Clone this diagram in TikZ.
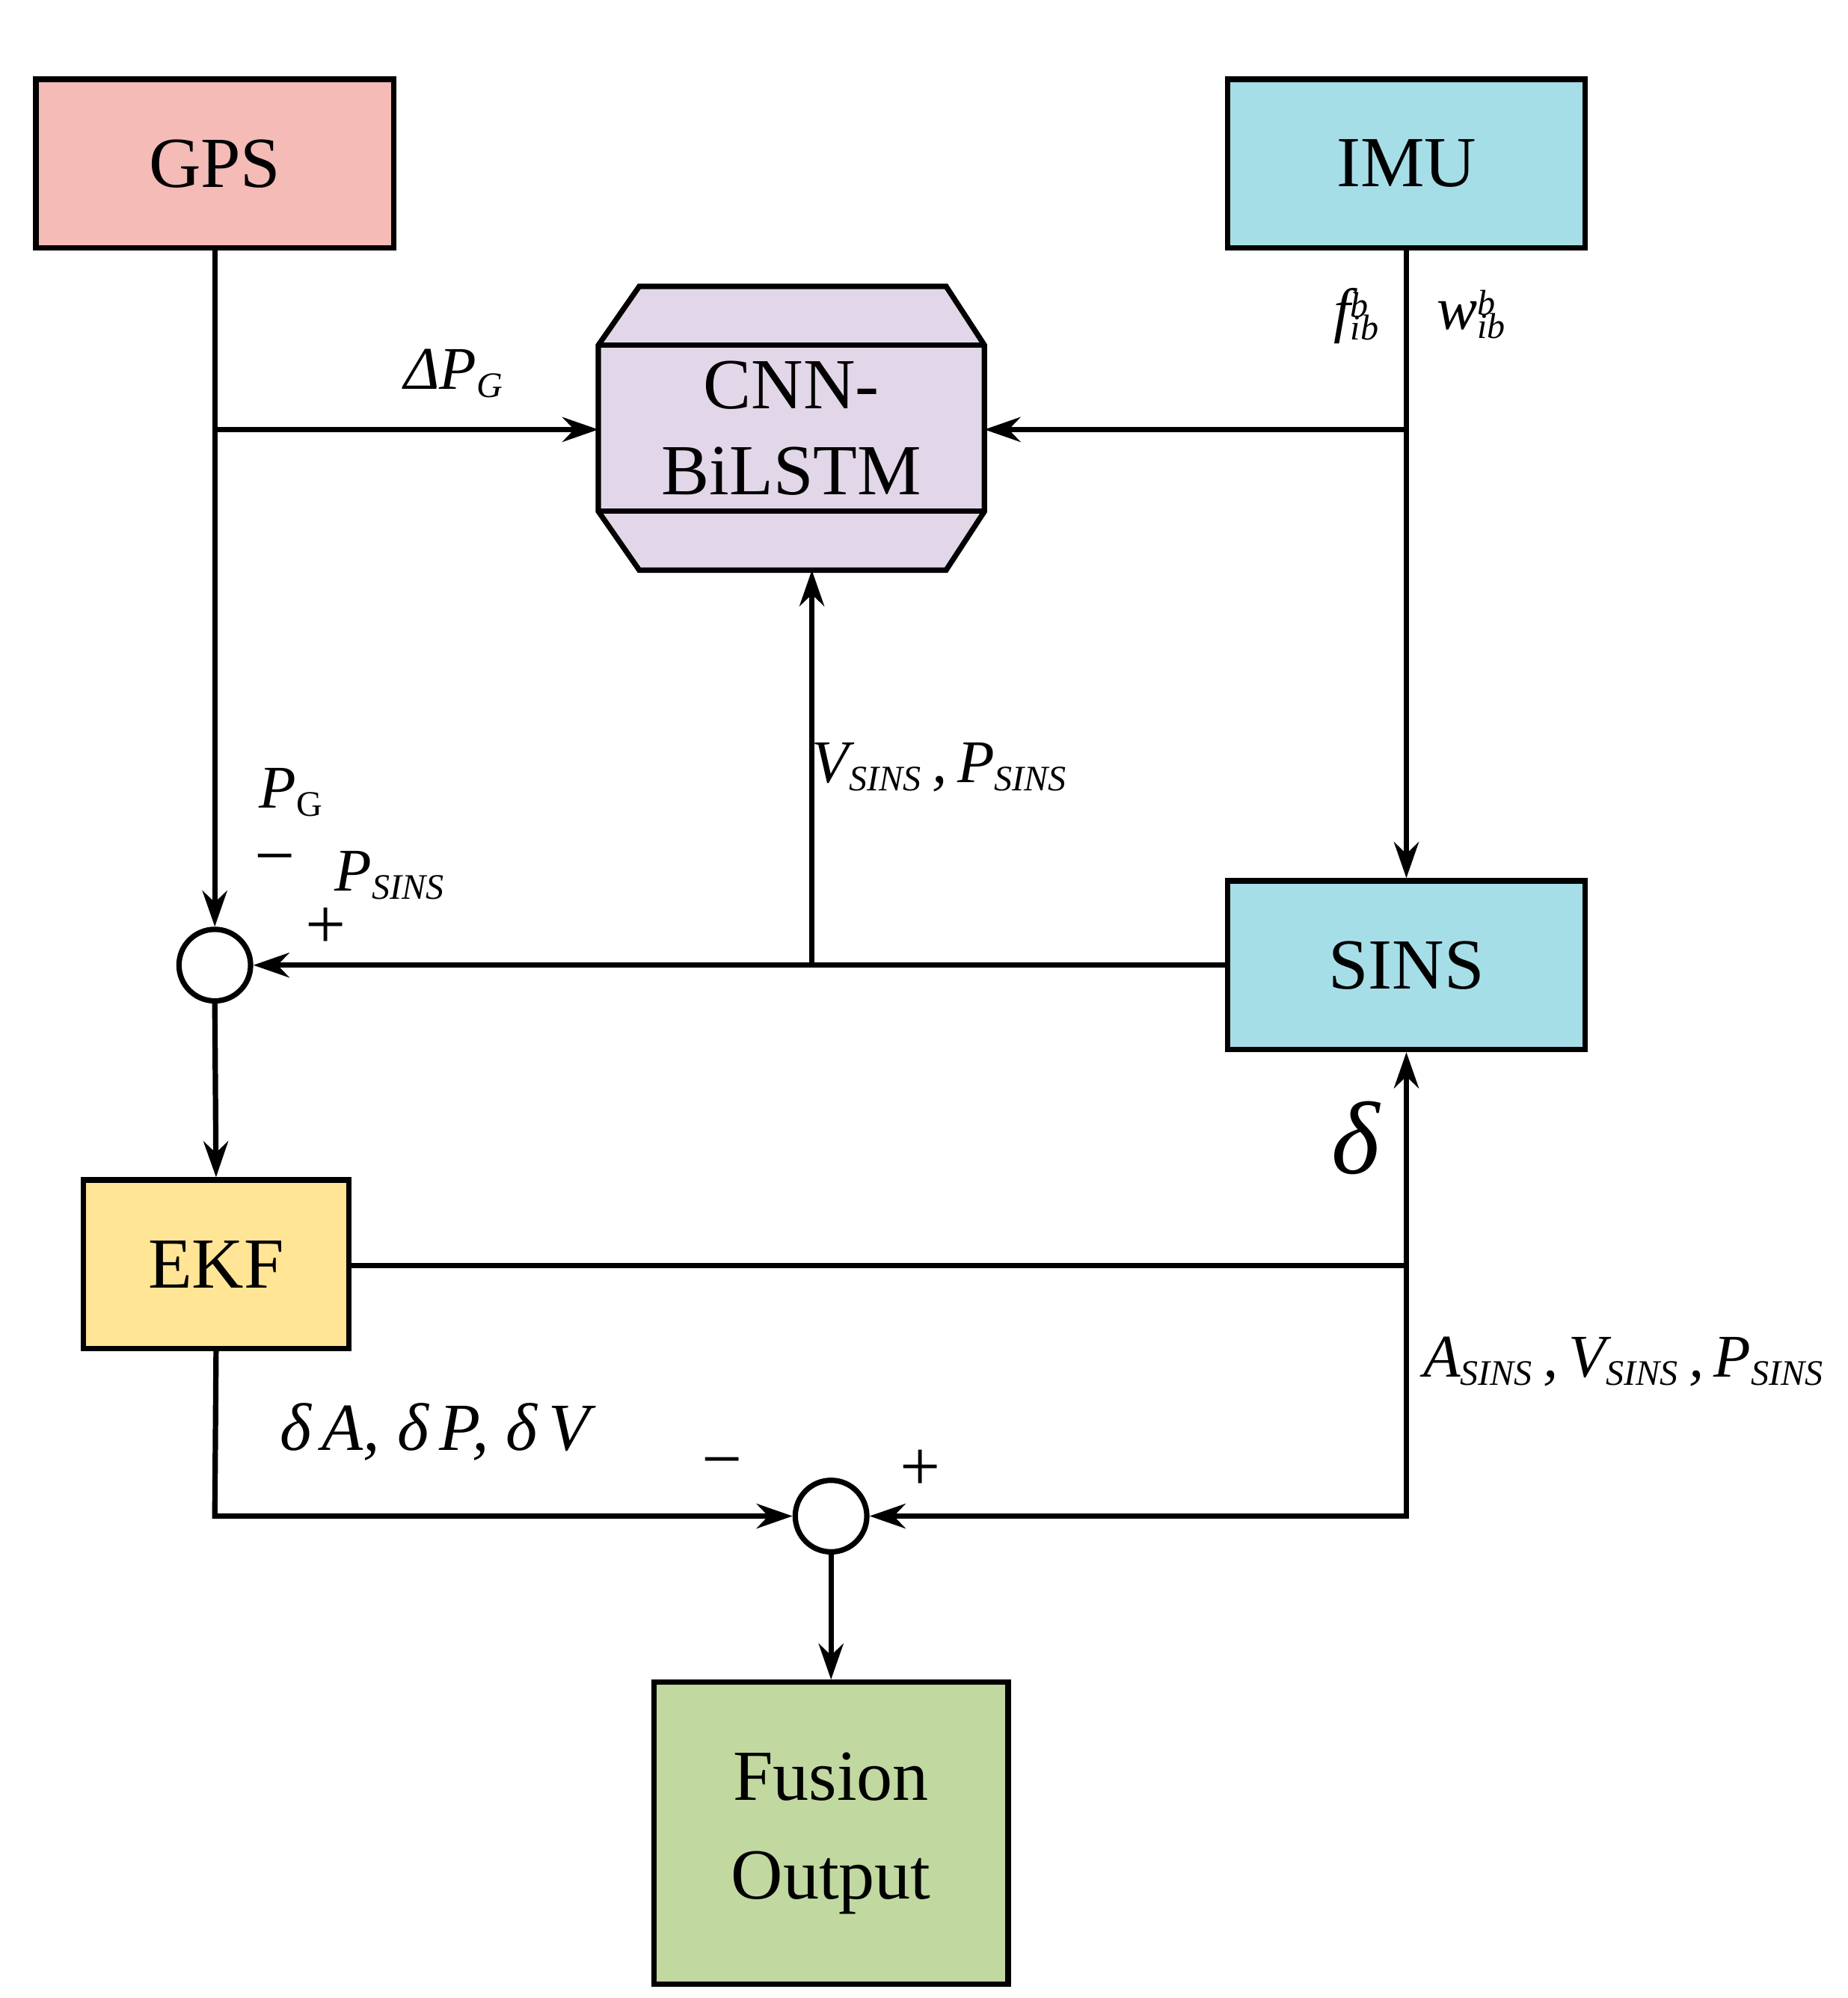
\documentclass[tikz,border=0pt]{standalone}
\usepackage{fontspec}
\setmainfont{Liberation Serif}
\usetikzlibrary{arrows.meta}
\definecolor{gpsc}{HTML}{F4BBB7}
\definecolor{imuc}{HTML}{A6DEE8}
\definecolor{cnnc}{HTML}{E2D7E8}
\definecolor{ekfc}{HTML}{FFE595}
\definecolor{fusc}{HTML}{C1D8A0}
\newcommand{\sub}[1]{\textsubscript{\fontsize{16}{16}\selectfont #1}}
\newcommand{\supsub}[2]{\raisebox{0pt}{\fontsize{16}{16}\selectfont\begin{tabular}{@{}l@{}}#1\\[-6pt]#2\end{tabular}}}
\begin{document}
\begin{tikzpicture}[x=0.02cm,y=-0.02cm,line width=2.4pt,
  box/.style={draw,rectangle,inner sep=0pt,font=\fontsize{32}{36}\selectfont},
  sum/.style={draw,circle,fill=white,inner sep=0pt},
  arr/.style={-{Stealth[length=16pt,width=11pt]}},
  lab/.style={font=\fontsize{27}{30}\selectfont\itshape,inner sep=1pt}]
\useasboundingbox (0,0) rectangle (1445,1563);
\node[box,fill=gpsc,minimum width=5.6cm,minimum height=2.64cm] (gps) at (168,128) {GPS};
\node[box,fill=imuc,minimum width=5.6cm,minimum height=2.64cm] (imu) at (1100,128) {IMU};
\node[box,fill=imuc,minimum width=5.6cm,minimum height=2.64cm] (sins) at (1100,755) {SINS};
\node[box,fill=ekfc,minimum width=4.16cm,minimum height=2.64cm] (ekf) at (169,989) {EKF};
\node[box,fill=fusc,minimum width=5.54cm,minimum height=4.72cm,align=center] (fus) at (650,1434) {Fusion\\[8pt]Output};
\draw[fill=cnnc] (500,224) -- (740,224) -- (770,270) -- (770,400) -- (740,446) -- (500,446) -- (468,400) -- (468,270) -- cycle;
\draw (468,270) -- (770,270) (468,400) -- (770,400);
\node[inner sep=0pt,minimum width=6.04cm,minimum height=4.44cm,align=center,font=\fontsize{32}{36}\selectfont] (cnn) at (619,335) {CNN-\\[2pt]BiLSTM};
\node[sum,minimum size=1.12cm] (s1) at (168,755) {};
\node[sum,minimum size=1.12cm] (s2) at (650,1186) {};
\coordinate (g1) at (168,336);
\coordinate (i1) at (1100,336);
\coordinate (v1) at (635,755);
\coordinate (e1) at (1100,990);
\coordinate (e2) at (168,1186);
\coordinate (e3) at (1100,1186);
\draw[arr] (gps.south) -- (s1.north);
\draw[arr] (g1) -- (468,336);
\draw[arr] (imu.south) -- (sins.north);
\draw[arr] (i1) -- (770,336);
\draw[arr] (sins.west) -- (s1.east);
\draw[arr] (v1) -- (635,446);
\draw[arr] (s1.south) -- (ekf.north);
\draw[arr] (ekf.east |- e1) -- (e1) -- (sins.south);
\draw[arr] (ekf.south) -- (e2) -- (s2.west);
\draw[arr] (e1) -- (e3) -- (s2.east);
\draw[arr] (s2.south) -- (fus.north);
\node[lab] at (355,292) {ΔP\sub{G}};
\node[lab,anchor=east] at (1082,250) {f\supsub{b}{ib}};
\node[lab,anchor=west] at (1120,250) {w\supsub{b}{ib}};
\node[lab] at (735,600) {V\sub{SINS}\,,\,P\sub{SINS}};
\node[lab] at (228,620) {P\textsubscript{\upshape\fontsize{16}{16}\selectfont G}};
\node[font=\fontsize{32}{36}\selectfont] at (215,678) {\textminus};
\node[lab] at (305,685) {P\sub{SINS}};
\node[font=\fontsize{32}{36}\selectfont] at (255,726) {+};
\node[lab,font=\fontsize{46}{50}\selectfont\itshape] at (1060,890) {δ};
\node[lab] at (1270,1065) {A\sub{SINS}\,,\,V\sub{SINS}\,,\,P\sub{SINS}};
\node[lab,font=\fontsize{30}{32}\selectfont\itshape] at (340,1120) {δ\,A, δ\,P, δ\,V};
\node[font=\fontsize{32}{36}\selectfont] at (565,1150) {\textminus};
\node[font=\fontsize{32}{36}\selectfont] at (720,1150) {+};
\end{tikzpicture}
\end{document}
